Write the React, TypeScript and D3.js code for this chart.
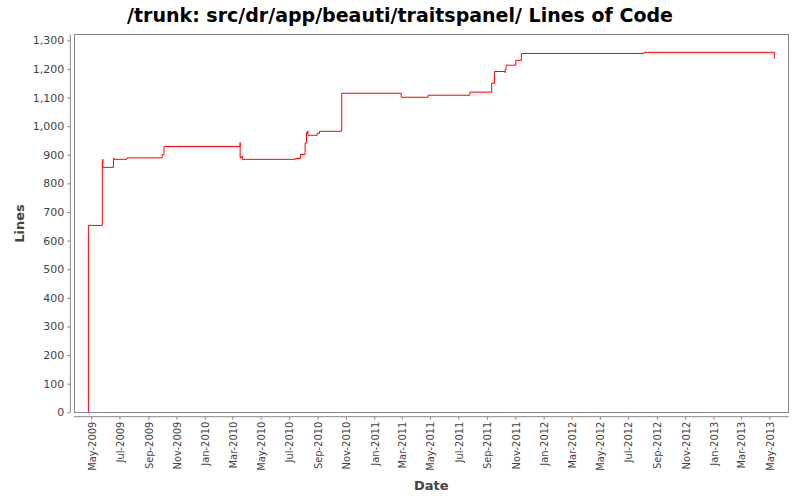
import * as d3 from "d3";
import { useEffect, useRef } from "react";

/* -----------------------------
   Data
----------------------------- */

const commitDates: string[] = [
  "2009-04-25", "2009-04-25", "2009-05-25", "2009-05-26", "2009-05-26",
  "2009-06-18", "2009-06-20", "2009-07-17", "2009-10-01", "2009-10-05",
  "2010-03-18", "2010-03-18", "2010-03-20", "2010-03-23", "2010-07-15",
  "2010-07-26", "2010-08-05", "2010-08-08", "2010-08-11", "2010-08-11",
  "2010-08-31", "2010-09-05", "2010-10-23", "2011-02-28", "2011-04-27",
  "2011-07-26", "2011-09-11", "2011-09-17", "2011-10-10", "2011-10-10",
  "2011-10-12", "2011-11-02", "2011-11-14", "2012-08-05", "2013-05-12",
];

const linesOfCode: number[] = [
  0, 653, 874, 884, 856,
  887, 884, 889, 901, 929,
  943, 889, 894, 884, 887,
  901, 941, 978, 982, 968,
  975, 982, 1115, 1101, 1108,
  1119, 1150, 1191, 1187, 1198,
  1213, 1230, 1254, 1258, 1236,
];

const yTicks: number[] = [0, 100, 200, 300, 400, 500, 600, 700, 800, 900, 1000, 1100, 1200, 1300];

const xDomain: string[] = ["2009-03-25", "2013-06-12"];

const chartTitle = "/trunk: src/dr/app/beauti/traitspanel/ Lines of Code";

/* -----------------------------
   Component
----------------------------- */

type Point = { date: Date; value: number };

export default function App() {
  const ref = useRef<SVGSVGElement>(null);

  useEffect(() => {
    if (!ref.current) return;
    const svg = d3.select(ref.current);
    svg.selectAll("*").remove();

    const parse = d3.timeParse("%Y-%m-%d");
    const data: Point[] = commitDates.map((d, i) => ({
      date: parse(d)!,
      value: linesOfCode[i],
    }));

    const left = 74;
    const right = 788.7;
    const top = 34.7;
    const bottom = 412.3;
    const font = "Tahoma, 'DejaVu Sans', sans-serif";
    const narrow = "Tahoma, 'DejaVu Sans Condensed', 'DejaVu Sans', sans-serif";

    const x = d3
      .scaleTime()
      .domain(xDomain.map((d) => parse(d)!))
      .range([left, right]);

    const y = d3.scaleLinear().domain([0, 1300]).range([bottom, 40.3]);

    // Title
    svg
      .append("text")
      .attr("x", 400)
      .attr("y", 22)
      .attr("text-anchor", "middle")
      .style("font-family", font)
      .style("font-size", "19px")
      .style("font-weight", "bold")
      .style("fill", "#000")
      .text(chartTitle);

    // Plot frame
    svg
      .append("rect")
      .attr("x", left)
      .attr("y", top)
      .attr("width", right - left)
      .attr("height", bottom - top)
      .attr("fill", "white")
      .attr("stroke", "#888")
      .attr("stroke-width", 1)
      .attr("shape-rendering", "crispEdges");

    // Y axis (offset from the frame)
    const yAxis = svg
      .append("g")
      .attr("transform", "translate(70.3,0)")
      .call(
        d3
          .axisLeft(y)
          .tickValues(yTicks)
          .tickSize(3)
          .tickPadding(3)
          .tickFormat(d3.format(","))
      );
    yAxis.select(".domain").attr("stroke", "#888").attr("d", `M0,${top}V${bottom}`);
    yAxis.selectAll(".tick line").attr("stroke", "#888");
    yAxis
      .selectAll("text")
      .style("font-family", font)
      .style("font-size", "11px")
      .style("fill", "#444");

    // X axis (offset from the frame)
    const xAxis = svg
      .append("g")
      .attr("transform", "translate(0,416.7)")
      .call(
        d3
          .axisBottom(x)
          .ticks(d3.timeMonth.every(2))
          .tickSize(3)
          .tickFormat((d) => d3.timeFormat("%b-%Y")(d as Date))
      );
    xAxis.select(".domain").attr("stroke", "#888").attr("d", `M${left},0H${right}`);
    xAxis.selectAll(".tick line").attr("stroke", "#888");
    xAxis
      .selectAll("text")
      .attr("transform", "rotate(-90)")
      .attr("text-anchor", "end")
      .attr("x", -5)
      .attr("y", 0)
      .attr("dy", "0.35em")
      .style("font-family", narrow)
      .style("font-size", "11px")
      .style("fill", "#444");

    // Axis titles
    svg
      .append("text")
      .attr("x", (left + right) / 2)
      .attr("y", 490)
      .attr("text-anchor", "middle")
      .style("font-family", font)
      .style("font-size", "13px")
      .style("font-weight", "bold")
      .style("fill", "#444")
      .text("Date");

    svg
      .append("text")
      .attr("transform", `translate(24,${(top + bottom) / 2}) rotate(-90)`)
      .attr("text-anchor", "middle")
      .style("font-family", font)
      .style("font-size", "13px")
      .style("font-weight", "bold")
      .style("fill", "#444")
      .text("Lines");

    // Step line
    const line = d3
      .line<Point>()
      .x((d) => x(d.date))
      .y((d) => y(d.value))
      .curve(d3.curveStepAfter);

    svg
      .append("path")
      .datum(data)
      .attr("d", line)
      .attr("fill", "none")
      .attr("stroke", "red")
      .attr("stroke-width", 1);
  }, []);

  return (
    <svg
      ref={ref}
      width={800}
      height={500}
      style={{ position: "absolute", left: 0, top: 0, background: "white" }}
    />
  );
}
